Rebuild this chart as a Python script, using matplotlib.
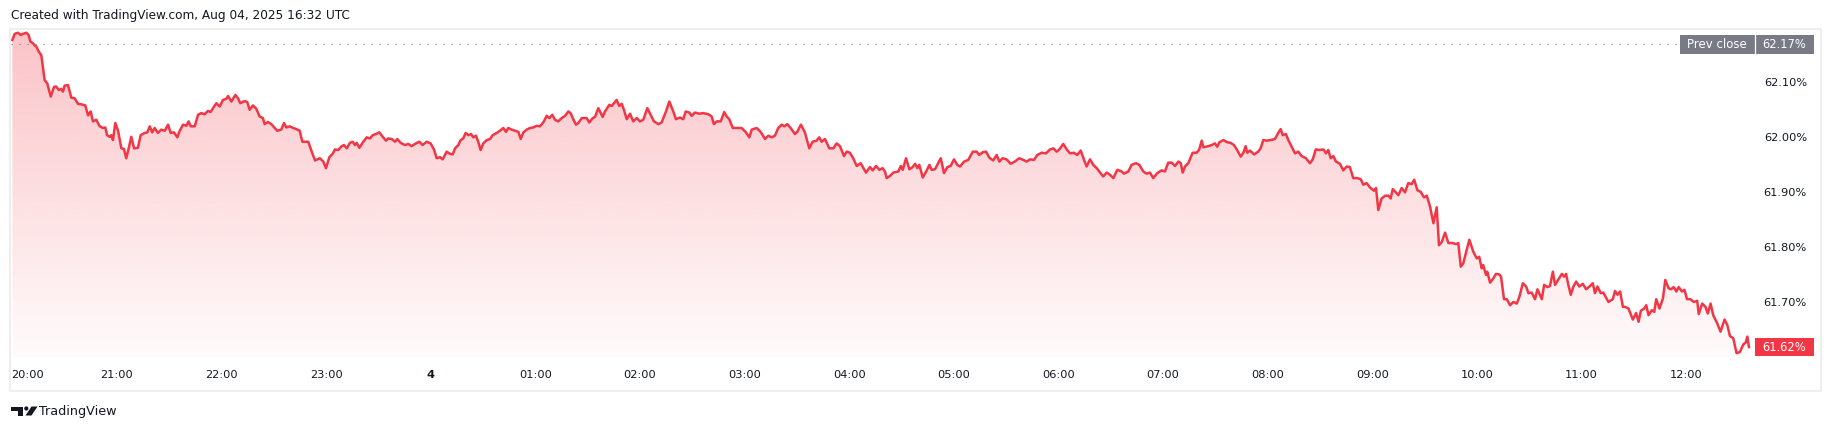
import matplotlib
matplotlib.use('Agg')
import matplotlib.pyplot as plt
import numpy as np
from matplotlib.patches import Rectangle, Polygon, Circle
from matplotlib.lines import Line2D
from matplotlib.transforms import IdentityTransform, blended_transform_factory

plt.rcParams['font.family'] = ['DejaVu Sans']

# ---------------- data (minutes after 20:00, yield %) ----------------
seg1_t = [0, 1.3, 3.2, 4.8, 6.1, 8.0, 9.3, 10.3, 11.8, 12.8,
          13.7, 15.1, 16.6, 17.6, 18.5, 20.0, 22.0, 23.9, 25.2, 26.6,
          28.0, 29.0, 30.0, 31.9, 33.8, 35.7, 37.6, 39.5, 41.8, 43.4,
          44.9, 46.2, 48.1, 50.1, 52.0, 53.3, 54.3, 55.8, 56.7, 57.7,
          59.0, 60.6, 62.5, 64.0, 65.3, 66.7, 68.2, 69.8, 72.0, 73.6,
          75.9, 77.4, 78.8, 80.2, 81.6, 83.5, 85.4, 87.4, 89.3, 90.8,
          92.7, 94.6, 96.0, 97.9, 99.8, 101.1, 102.3, 104.6, 106.5, 108.4,
          110.3, 112.2, 113.7, 115.1, 117.0, 118.9, 120.8, 122.7, 123.7, 125.6,
          127.9, 129.4, 130.7, 133.2, 134.7, 136.1, 138.0, 139.9, 141.8, 143.7,
          144.7, 146.6, 148.5, 150.5, 151.9, 154.2, 155.8, 157.1, 159.1, 161.0,
          162.8, 164.8, 166.3]
seg1_v = [62.178, 62.189, 62.191, 62.187, 62.189, 62.191, 62.187, 62.175, 62.172, 62.168,
          62.166, 62.157, 62.150, 62.127, 62.105, 62.099, 62.075, 62.093, 62.093, 62.087,
          62.089, 62.084, 62.095, 62.096, 62.073, 62.072, 62.062, 62.061, 62.059, 62.041,
          62.048, 62.030, 62.033, 62.021, 62.018, 62.019, 62.005, 62.002, 62.005, 61.996,
          62.027, 62.013, 61.981, 61.980, 61.963, 61.981, 62.002, 61.981, 61.982, 62.005,
          62.009, 62.010, 62.021, 62.010, 62.018, 62.009, 62.015, 62.013, 62.024, 62.009,
          62.010, 62.001, 62.013, 62.024, 62.022, 62.030, 62.021, 62.021, 62.042, 62.045,
          62.043, 62.049, 62.047, 62.054, 62.063, 62.057, 62.069, 62.071, 62.076, 62.066,
          62.078, 62.072, 62.063, 62.067, 62.065, 62.051, 62.059, 62.053, 62.039, 62.036,
          62.025, 62.029, 62.025, 62.018, 62.013, 62.015, 62.027, 62.019, 62.021, 62.018,
          62.016, 62.013, 61.993]

seg2_t = [169.7, 171.7, 173.6, 176.4, 178.3, 179.9, 181.8, 183.7, 185.0, 186.9,
          188.9, 190.2, 191.8, 193.6, 195.2, 196.5, 197.5, 199.0, 201.3, 203.2,
          205.1, 206.7, 208.6, 210.5, 212.4, 214.3, 215.6, 217.6, 219.5, 220.8,
          222.7, 225.2, 227.1, 229.0, 230.9, 233.4, 235.3, 237.6, 239.9, 241.8,
          243.4, 245.3, 246.8, 249.1, 251.0, 252.6, 253.9, 255.8, 257.1, 258.6,
          260.0, 261.5, 263.1, 264.4, 265.9, 267.2, 268.6, 270.1, 272.1, 274.0,
          275.5, 277.8, 279.7, 281.6, 283.1, 284.4, 286.4, 288.3, 290.2, 291.6,
          293.1, 295.0, 296.9, 298.8, 300.7, 302.6, 304.5, 306.5, 308.0, 309.7,
          311.2, 313.1, 315.1, 317.0, 318.9, 320.2, 321.7, 323.3, 324.6, 326.6,
          329.4, 330.9, 332.9, 334.2]
seg2_v = [61.993, 61.975, 61.959, 61.963, 61.957, 61.945, 61.965, 61.971, 61.979, 61.978,
          61.985, 61.987, 61.981, 61.991, 61.993, 61.987, 61.991, 61.982, 61.993, 62.001,
          61.999, 62.005, 62.007, 62.010, 62.002, 61.995, 61.999, 61.998, 61.993, 61.998,
          61.991, 61.987, 61.989, 61.985, 61.989, 61.993, 61.987, 61.993, 61.990, 61.979,
          61.963, 61.965, 61.961, 61.975, 61.971, 61.970, 61.981, 61.987, 61.996, 61.999,
          62.009, 62.005, 62.007, 62.001, 62.004, 61.993, 61.978, 61.990, 61.996, 61.998,
          62.005, 62.009, 62.013, 62.018, 62.011, 62.018, 62.015, 62.013, 62.011, 61.998,
          62.010, 62.015, 62.018, 62.019, 62.022, 62.021, 62.028, 62.040, 62.036, 62.042,
          62.033, 62.030, 62.036, 62.040, 62.048, 62.045, 62.034, 62.024, 62.027, 62.036,
          62.036, 62.028, 62.036, 62.038]

seg3_t = [336.1, 338.6, 339.9, 342.4, 343.8, 345.1, 346.6, 348.1, 349.5, 350.8,
          352.4, 354.3, 356.1, 358.1, 360.0, 361.9, 364.2, 366.1, 368.0, 370.5,
          372.4, 374.9, 376.8, 379.1, 380.6, 382.9, 384.8, 386.2, 388.3, 389.6,
          391.5, 394.0, 396.3, 399.2, 401.1, 402.4, 404.0, 406.3, 408.3, 409.7,
          411.2, 413.2, 415.5, 418.3, 420.8, 422.7, 424.1, 426.9, 429.2, 431.7,
          433.6, 435.5, 437.4, 439.3, 441.3, 442.8, 444.5, 446.4, 448.9, 450.2,
          452.3, 454.6, 457.1, 459.0, 461.3, 462.8, 464.2, 466.1, 468.6, 470.9,
          472.8, 474.7, 477.0, 478.6, 480.4, 482.3, 484.3, 486.6, 489.6, 491.9,
          493.5, 495.4, 497.3, 499.2, 500.5]
seg3_v = [62.054, 62.038, 62.048, 62.060, 62.058, 62.063, 62.069, 62.058, 62.062, 62.051,
          62.034, 62.044, 62.030, 62.036, 62.030, 62.033, 62.054, 62.042, 62.030, 62.025,
          62.028, 62.048, 62.066, 62.048, 62.034, 62.037, 62.034, 62.048, 62.046, 62.040,
          62.046, 62.044, 62.045, 62.043, 62.039, 62.025, 62.030, 62.030, 62.047, 62.039,
          62.034, 62.018, 62.018, 62.018, 62.010, 62.001, 62.015, 62.018, 62.011, 61.998,
          62.004, 62.001, 62.004, 62.018, 62.024, 62.021, 62.025, 62.018, 62.007, 62.011,
          62.024, 62.010, 61.981, 61.993, 61.995, 62.001, 61.993, 61.998, 61.981, 61.981,
          61.990, 61.985, 61.967, 61.975, 61.973, 61.963, 61.949, 61.954, 61.937, 61.947,
          61.941, 61.949, 61.942, 61.945, 61.939]

seg4_t = [501.5, 503.4, 505.3, 508.2, 509.6, 510.7, 512.6, 514.5, 516.4, 517.8,
          519.1, 520.2, 522.2, 524.5, 526.0, 527.3, 529.2, 530.5, 532.5, 534.4,
          536.3, 538.2, 540.1, 542.0, 543.6, 545.9, 548.3, 550.9, 553.1, 554.6,
          556.6, 558.5, 560.4, 562.6, 564.6, 566.1, 568.0, 570.3, 572.6, 575.0,
          577.5, 579.9, 581.8, 583.7, 586.0, 587.9, 590.4, 592.9, 595.2, 597.1,
          599.0, 600.5, 602.8, 604.8, 606.6, 608.9, 610.8, 612.8, 614.7, 616.2,
          618.1, 620.0, 622.0, 623.9, 625.7, 627.7, 629.6, 631.5, 633.8, 636.3,
          637.6, 640.1, 642.0, 644.5, 646.4, 648.7, 650.6, 652.5, 654.4, 656.7,
          659.2, 661.1, 663.0, 665.0, 666.9]
seg4_v = [61.927, 61.931, 61.937, 61.939, 61.949, 61.942, 61.963, 61.943, 61.947, 61.953,
          61.945, 61.951, 61.928, 61.941, 61.951, 61.942, 61.943, 61.951, 61.963, 61.936,
          61.947, 61.949, 61.961, 61.951, 61.948, 61.957, 61.960, 61.975, 61.975, 61.969,
          61.974, 61.975, 61.964, 61.959, 61.969, 61.957, 61.963, 61.961, 61.953, 61.957,
          61.963, 61.960, 61.957, 61.961, 61.960, 61.969, 61.973, 61.972, 61.979, 61.981,
          61.975, 61.979, 61.989, 61.979, 61.972, 61.973, 61.969, 61.977, 61.960, 61.948,
          61.961, 61.951, 61.945, 61.937, 61.930, 61.937, 61.933, 61.927, 61.942, 61.939,
          61.935, 61.939, 61.951, 61.954, 61.951, 61.939, 61.935, 61.937, 61.927, 61.936,
          61.941, 61.939, 61.955, 61.955, 61.949]

seg5_t = [668.8, 670.2, 671.3, 672.6, 674.5, 677.0, 679.3, 680.8, 682.2, 683.1,
          686.0, 687.9, 689.8, 691.1, 692.3, 694.6, 696.9, 698.8, 700.7, 702.3,
          704.6, 706.1, 707.4, 708.3, 709.9, 712.2, 714.6, 716.0, 717.5, 719.5,
          721.8, 724.2, 726.1, 727.5, 728.7, 730.5, 731.9, 733.8, 735.7, 737.6,
          739.5, 742.0, 744.3, 745.9, 747.6, 749.7, 752.0, 753.5, 754.8, 756.2,
          757.7, 759.2, 761.5, 763.4, 765.4, 767.2, 769.1, 771.4, 773.4, 774.9,
          776.8, 778.7, 781.0, 782.2, 783.5, 785.4, 787.4, 789.3, 790.6, 791.8,
          793.6, 795.0, 796.9, 798.8, 800.7, 802.6, 804.1, 805.9, 807.8, 809.7,
          811.3, 813.2, 815.1, 817.0, 818.3, 819.9, 821.8, 823.7, 826.2, 828.1,
          829.4, 830.8, 832.2]
seg5_v = [61.957, 61.954, 61.937, 61.948, 61.954, 61.973, 61.973, 61.979, 61.995, 61.983,
          61.985, 61.987, 61.990, 61.984, 61.992, 61.996, 61.992, 61.991, 61.987, 61.979,
          61.966, 61.973, 61.985, 61.973, 61.977, 61.970, 61.975, 61.981, 61.996, 61.995,
          61.996, 61.998, 62.009, 62.016, 62.005, 62.007, 61.996, 61.984, 61.972, 61.975,
          61.967, 61.963, 61.954, 61.961, 61.979, 61.978, 61.979, 61.972, 61.978, 61.963,
          61.967, 61.957, 61.953, 61.941, 61.948, 61.947, 61.927, 61.927, 61.925, 61.915,
          61.918, 61.910, 61.904, 61.909, 61.869, 61.890, 61.895, 61.895, 61.890, 61.907,
          61.901, 61.896, 61.909, 61.901, 61.918, 61.916, 61.924, 61.905, 61.902, 61.892,
          61.895, 61.875, 61.845, 61.874, 61.805, 61.811, 61.828, 61.809, 61.809, 61.807,
          61.809, 61.766, 61.772]

seg6_t = [835.7, 838.0, 840.0, 841.4, 842.8, 843.7, 845.3, 846.0, 847.6, 849.5,
          851.0, 852.9, 853.9, 855.6, 857.2, 859.1, 861.0, 862.9, 864.4, 866.4,
          868.3, 869.6, 871.5, 873.4, 874.8, 877.3, 878.6, 880.5, 882.0, 883.6,
          884.9, 886.8, 888.8, 890.1, 891.2, 892.5, 893.9, 895.4, 897.0, 898.8,
          900.8, 902.7, 905.0, 906.5, 907.8, 909.2, 911.1, 912.6, 915.5, 918.0,
          919.3, 920.7, 922.2, 923.8, 925.1, 927.0, 929.5, 931.4, 932.8, 934.1,
          936.0, 937.2, 938.5, 940.4, 941.8, 942.9, 944.8, 946.8, 948.1, 950.0,
          951.4, 952.9, 954.5, 955.8, 957.7, 959.1, 960.6, 962.5, 964.4, 966.4,
          967.3, 969.3, 971.2, 972.5, 974.1, 975.6, 977.9, 979.8, 982.1, 983.7,
          985.2, 987.1, 989.0, 990.9, 992.9, 994.2, 995.2, 996.1]
seg6_v = [61.815, 61.793, 61.781, 61.784, 61.763, 61.769, 61.751, 61.757, 61.737, 61.745,
          61.753, 61.752, 61.748, 61.707, 61.707, 61.696, 61.702, 61.699, 61.711, 61.736,
          61.730, 61.718, 61.719, 61.707, 61.725, 61.707, 61.733, 61.729, 61.731, 61.757,
          61.733, 61.743, 61.753, 61.748, 61.753, 61.733, 61.715, 61.730, 61.739, 61.730,
          61.735, 61.725, 61.731, 61.736, 61.718, 61.730, 61.718, 61.719, 61.702, 61.707,
          61.722, 61.715, 61.721, 61.693, 61.693, 61.690, 61.670, 61.682, 61.666, 61.686,
          61.690, 61.696, 61.678, 61.687, 61.684, 61.707, 61.690, 61.709, 61.742, 61.727,
          61.725, 61.729, 61.721, 61.729, 61.721, 61.724, 61.707, 61.707, 61.702, 61.704,
          61.680, 61.699, 61.693, 61.681, 61.699, 61.678, 61.663, 61.648, 61.670, 61.660,
          61.640, 61.636, 61.609, 61.611, 61.625, 61.628, 61.639, 61.620]

prev_close = 62.17
last_value = 61.62
price_ticks = [62.10, 62.00, 61.90, 61.80, 61.70]
time_ticks = [0, 60, 120, 180, 240, 300, 360, 420, 480, 540, 600, 660, 720, 780, 840, 900, 960]
time_labels = ['20:00', '21:00', '22:00', '23:00', '4', '01:00', '02:00', '03:00', '04:00',
               '05:00', '06:00', '07:00', '08:00', '09:00', '10:00', '11:00', '12:00']
header = 'Created with TradingView.com, Aug 04, 2025 16:32 UTC'

t = np.array(seg1_t + seg2_t + seg3_t + seg4_t + seg5_t + seg6_t)
v = np.array(seg1_v + seg2_v + seg3_v + seg4_v + seg5_v + seg6_v)

# ---------------- layout ----------------
W, H = 1831, 430
fig = plt.figure(figsize=(W / 100, H / 100), dpi=100)
fig.patch.set_facecolor('white')

def fx(px):
    return px / W

def fy(py):
    return 1 - py / H

PL, PR, PT, PB = 11, 1754, 30, 357
ax = fig.add_axes([fx(PL), fy(PB), (PR - PL) / W, (PB - PT) / H])
ax.set_facecolor('none')
for s in ax.spines.values():
    s.set_visible(False)
ax.set_xticks([])
ax.set_yticks([])

x0, x1 = -0.8, 999.0
y0, y1 = 61.602, 62.196

RED = '#f23645'
TXT = '#131722'

# gradient area under the line
grad = np.zeros((256, 1, 4))
grad[..., 0] = 242 / 255
grad[..., 1] = 54 / 255
grad[..., 2] = 69 / 255
grad[:, 0, 3] = np.linspace(0.02, 0.30, 256)
im = ax.imshow(grad, extent=[x0, x1, y0, y1], origin='lower', aspect='auto',
               zorder=1, interpolation='bilinear')
verts = np.vstack([np.column_stack([t, v]), [[t[-1], y0], [t[0], y0]]])
clip = Polygon(verts, closed=True, transform=ax.transData, facecolor='none', edgecolor='none')
ax.add_patch(clip)
im.set_clip_path(clip)

ax.plot(t, v, color=RED, lw=1.8, solid_joinstyle='round', zorder=3)
ax.set_xlim(x0, x1)
ax.set_ylim(y0, y1)

fig.canvas.draw()

def ypix(val):
    return ax.transData.transform((0, val))[1]

# outer frame
frame = Rectangle((10, H - 391), 1811, 362, transform=IdentityTransform(),
                  facecolor='none', edgecolor='#eeeeee', lw=1.5)
fig.patches.append(frame)

# prev close dotted line
yp = ypix(prev_close)
fig.lines.append(Line2D([PL, 1680], [yp, yp], transform=IdentityTransform(),
                        color='#868993', lw=0.8, linestyle=(0, (1.2, 6))))

# prev close label
fig.patches.append(Rectangle((1680, yp - 9.5), 134, 19, transform=IdentityTransform(),
                             facecolor='#787b86', edgecolor='none'))
fig.lines.append(Line2D([1754.5, 1754.5], [yp - 9.5, yp + 9.5], transform=IdentityTransform(),
                        color='white', lw=0.9))
fig.text(fx(1717), yp / H, 'Prev close', color='white', fontsize=8.5, ha='center', va='center')
fig.text(fx(1784), yp / H, f'{prev_close:.2f}%', color='white', fontsize=8.3, ha='center', va='center')

# price axis labels
for p in price_ticks:
    fig.text(fx(1807), ypix(p) / H, f'{p:.2f}%', color=TXT, fontsize=8.2, ha='right', va='center')

# last value label
yl = ypix(last_value)
fig.patches.append(Rectangle((1755, yl - 9), 59, 18, transform=IdentityTransform(),
                             facecolor=RED, edgecolor='none'))
fig.text(fx(1784.5), yl / H, f'{last_value:.2f}%', color='white', fontsize=8.3, ha='center', va='center')

# time axis labels
tr = blended_transform_factory(ax.transData, fig.transFigure)
for tk, lab in zip(time_ticks, time_labels):
    if tk == 0:
        fig.text(fx(11), fy(375), lab, color=TXT, fontsize=8.2, ha='left', va='center')
    else:
        fig.text(tk, fy(375), lab, color=TXT, fontsize=8.2, ha='center', va='center',
                 transform=tr, fontweight='bold' if lab == '4' else 'normal')

# header
fig.text(fx(11), fy(16), header, color=TXT, fontsize=8.7, ha='left', va='center')

# TradingView logo
def P(x, y):
    return (x, H - y)

logo_col = '#131722'
fig.patches.append(Polygon([P(11, 406.5), P(23, 406.5), P(23, 415.5), P(17.5, 415.5),
                            P(17.5, 410.5), P(11, 410.5)], closed=True,
                           transform=IdentityTransform(), facecolor=logo_col, edgecolor='none'))
fig.patches.append(Circle(P(26.3, 408.5), 2.1, transform=IdentityTransform(),
                          facecolor=logo_col, edgecolor='none'))
fig.patches.append(Polygon([P(31.5, 406.5), P(37.5, 406.5), P(31.5, 415.5), P(25.5, 415.5)],
                           closed=True, transform=IdentityTransform(),
                           facecolor=logo_col, edgecolor='none'))
fig.text(fx(39.5), fy(411.5), 'TradingView', color=TXT, fontsize=9.2, ha='left', va='center')

fig.savefig('out.png', dpi=100, facecolor='white')
